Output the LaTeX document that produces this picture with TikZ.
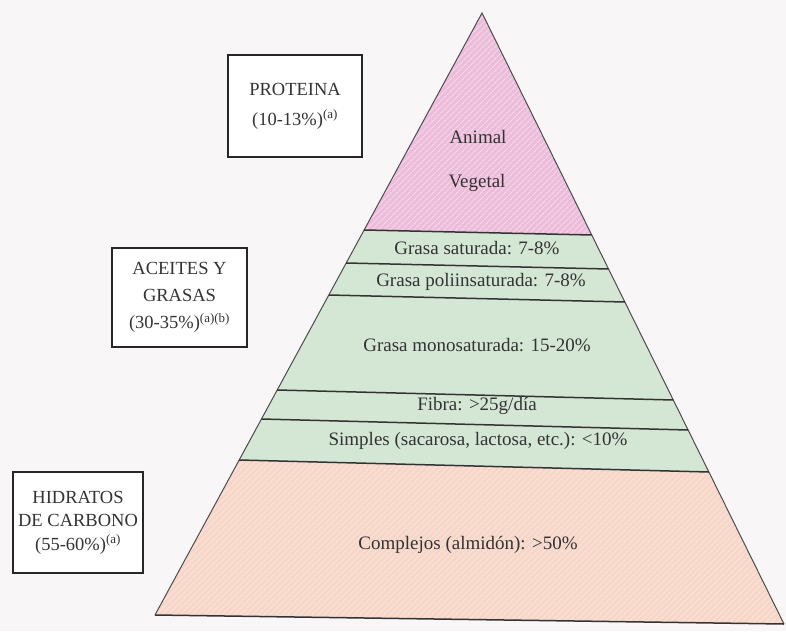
\documentclass[tikz,border=0pt]{standalone}
\usepackage{fontspec}
\setmainfont{Liberation Serif}
\usetikzlibrary{patterns.meta}
\definecolor{protpink}{RGB}{236,188,218}
\definecolor{fatgreen}{RGB}{212,231,213}
\definecolor{carbpeach}{RGB}{247,214,200}
\definecolor{paper}{RGB}{248,246,246}
\tikzset{
  infobox/.style={draw=black!85,line width=1.8pt,fill=white,align=center,
    text=black!80,font=\fontsize{18.5}{27}\selectfont,inner sep=0pt},
  bandlbl/.style={text=black!80,font=\fontsize{19}{21}\selectfont,inner sep=1pt},
  bandline/.style={line width=1.5pt,black!80},
  hatch/.style={pattern={Lines[angle=45,distance=4pt,line width=1.1pt]},pattern color=#1},
}

\begin{document}
\begin{tikzpicture}[x=1pt,y=-1pt]
\useasboundingbox (0,0) rectangle (786,631);
\fill[paper] (0,0) rectangle (786,631);
% corners of the pyramid
\coordinate (apex) at (482,13);
\coordinate (bl) at (155,615);
\coordinate (br) at (784,624);
% band edges on the left and right side
\coordinate (L1) at (364.1,230); \coordinate (R1) at (591.7,235);
\coordinate (L2) at (346.2,263); \coordinate (R2) at (608.5,269);
\coordinate (L3) at (328.8,295); \coordinate (R3) at (624.8,302);
\coordinate (L4) at (277.2,390); \coordinate (R4) at (673.3,400);
\coordinate (L5) at (261.5,419); \coordinate (R5) at (688.1,430);
\coordinate (L6) at (239.2,460); \coordinate (R6) at (708.9,472);
% bands
\fill[protpink] (apex)--(L1)--(R1)--cycle;
\fill[hatch=white!45!protpink] (apex)--(L1)--(R1)--cycle;
\fill[fatgreen] (L1)--(L6)--(R6)--(R1)--cycle;
\fill[carbpeach] (L6)--(bl)--(br)--(R6)--cycle;
\fill[hatch=white!40!carbpeach] (L6)--(bl)--(br)--(R6)--cycle;
\draw[line width=1pt,black!70] (bl)--(apex)--(br);
\draw[bandline] (bl)--(br);
\foreach \i in {1,...,6}
  \draw[bandline] (L\i)--(R\i);
% labels inside
\node[bandlbl] (animal) at (478,137) {Animal};
\node[bandlbl] (vegetal) at (477,183) {Vegetal};
\node[bandlbl] (satur) at (477,248) {Grasa saturada: 7-8\%};
\node[bandlbl] (poli) at (481,282) {Grasa poliinsaturada: 7-8\%};
\node[bandlbl] (mono) at (477,345) {Grasa monosaturada: 15-20\%};
\node[bandlbl] (fibra) at (477,406) {Fibra: >25g/día};
\node[bandlbl] (simples) at (478,441) {Simples (sacarosa, lactosa, etc.): <10\%};
\node[bandlbl] (complejos) at (468,545) {Complejos (almidón): >50\%};
% boxes on the left
\node[infobox,minimum width=134pt,minimum height=102pt,font=\fontsize{18.5}{30}\selectfont] (proteina) at (295,106)
  {PROTEINA\\(10-13\%)\textsuperscript{(a)}};
\node[infobox,minimum width=135pt,minimum height=99pt,font=\fontsize{18.5}{27}\selectfont] (aceites) at (179.5,297.5)
  {ACEITES Y\\GRASAS\\(30-35\%)\textsuperscript{(a)(b)}};
\node[infobox,minimum width=130pt,minimum height=101pt,font=\fontsize{18.5}{23.5}\selectfont] (hidratos) at (78,522.5)
  {HIDRATOS\\DE CARBONO\\(55-60\%)\textsuperscript{(a)}};
\end{tikzpicture}
\end{document}
